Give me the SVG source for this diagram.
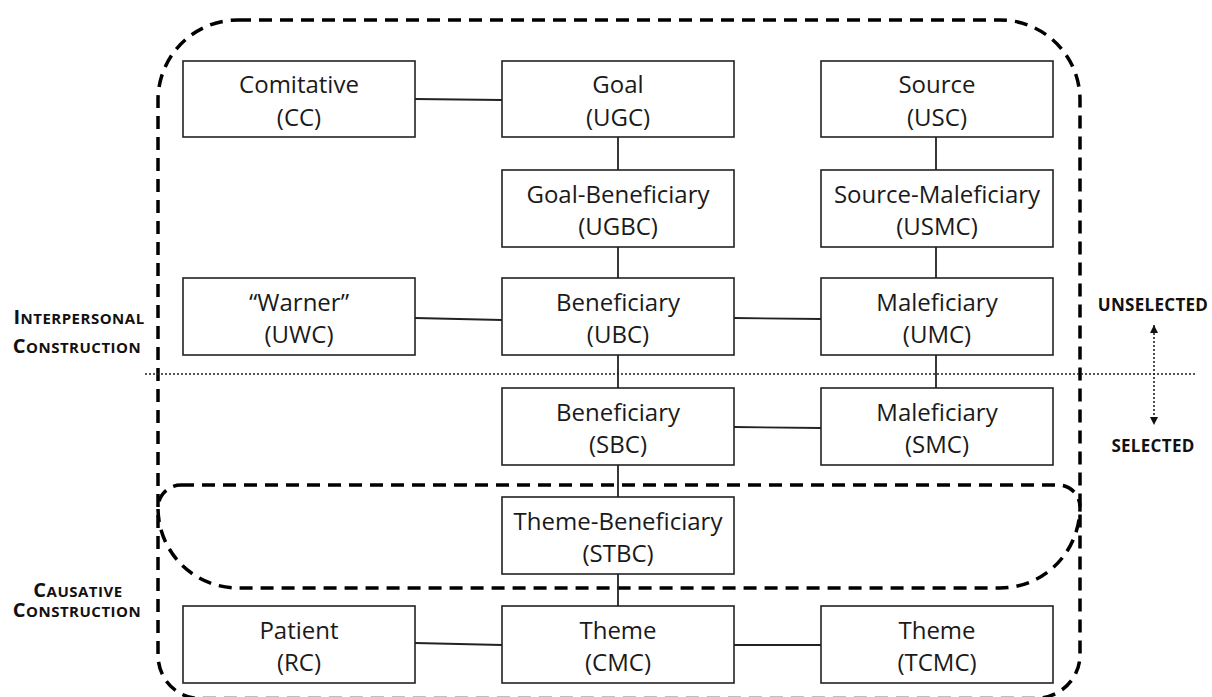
<svg xmlns="http://www.w3.org/2000/svg" width="1212" height="697" viewBox="0 0 1212 697">
<style>
.box{fill:#fff;stroke:#222;stroke-width:1.6}
.t{font-family:"Open Sans","Liberation Sans",sans-serif;font-size:24px;fill:#1a1a1a;text-anchor:middle}
.lab{font-family:"Open Sans","Liberation Sans",sans-serif;font-weight:bold;font-size:15px;letter-spacing:0.5px;fill:#111;text-anchor:middle}
.big{font-size:20px}
.sel{font-family:"Open Sans","Liberation Sans",sans-serif;font-weight:bold;font-size:17px;letter-spacing:0.3px;fill:#111;text-anchor:middle}
.c{stroke:#222;stroke-width:1.8;fill:none}
.dash{fill:none;stroke:#000;stroke-width:3.5;stroke-dasharray:13 8}
.dot{fill:none;stroke:#222;stroke-width:1.6;stroke-dasharray:2 2}
</style>
<defs>
<marker id="ah" viewBox="0 0 10 10" refX="10" refY="5" markerWidth="8" markerHeight="8" markerUnits="userSpaceOnUse" orient="auto-start-reverse">
<path d="M0,0 L10,5 L0,10 z" fill="#111"/>
</marker>
</defs>

<g id="regions">
<path class="dash" d="M238 20 H1000 A80 80 0 0 1 1080 100 V655 A45 43.5 0 0 1 1035 698.5 H200 A42 43.5 0 0 1 158 655 V100 A80 80 0 0 1 238 20 Z"/>
<path class="dash" d="M181 485 H1058 A22 22 0 0 1 1080 507 A80 81 0 0 1 1000 588 H238 A80 80 0 0 1 158 508 A23 23 0 0 1 181 485 Z"/>
</g>

<g id="connectors">
<line class="c" x1="415" y1="99" x2="502" y2="100"/>
<line class="c" x1="618" y1="137" x2="618" y2="170"/>
<line class="c" x1="936" y1="137" x2="936" y2="170"/>
<line class="c" x1="618" y1="247" x2="618" y2="278"/>
<line class="c" x1="936" y1="247" x2="936" y2="278"/>
<line class="c" x1="415" y1="318" x2="502" y2="320"/>
<line class="c" x1="734" y1="318" x2="821" y2="319"/>
<line class="c" x1="618" y1="355" x2="618" y2="388"/>
<line class="c" x1="936" y1="355" x2="936" y2="388"/>
<line class="c" x1="734" y1="427" x2="821" y2="428"/>
<line class="c" x1="618" y1="465" x2="618" y2="497"/>
<line class="c" x1="618" y1="574" x2="618" y2="606"/>
<line class="c" x1="415" y1="643" x2="502" y2="645"/>
<line class="c" x1="734" y1="645" x2="821" y2="645"/>
</g>

<g id="divider">
<line class="dot" x1="145" y1="374" x2="1197" y2="374"/>
<line class="dot" x1="1154" y1="325" x2="1154" y2="425" marker-start="url(#ah)" marker-end="url(#ah)"/>
</g>

<g id="n-cc"><rect class="box" x="183" y="61" width="232" height="76"/><text class="t" x="299" y="93">Comitative</text><text class="t" x="299" y="126">(CC)</text></g>
<g id="n-ugc"><rect class="box" x="502" y="61" width="232" height="76"/><text class="t" x="618" y="93">Goal</text><text class="t" x="618" y="126">(UGC)</text></g>
<g id="n-usc"><rect class="box" x="821" y="61" width="232" height="76"/><text class="t" x="937" y="93">Source</text><text class="t" x="937" y="126">(USC)</text></g>

<g id="n-ugbc"><rect class="box" x="502" y="170" width="232" height="77"/><text class="t" x="618" y="203">Goal-Beneficiary</text><text class="t" x="618" y="235">(UGBC)</text></g>
<g id="n-usmc"><rect class="box" x="821" y="170" width="232" height="77"/><text class="t" x="937" y="203">Source-Maleficiary</text><text class="t" x="937" y="235">(USMC)</text></g>

<g id="n-uwc"><rect class="box" x="183" y="278" width="232" height="77"/><text class="t" x="299" y="311">“Warner”</text><text class="t" x="299" y="343">(UWC)</text></g>
<g id="n-ubc"><rect class="box" x="502" y="278" width="232" height="77"/><text class="t" x="618" y="311">Beneficiary</text><text class="t" x="618" y="343">(UBC)</text></g>
<g id="n-umc"><rect class="box" x="821" y="278" width="232" height="77"/><text class="t" x="937" y="311">Maleficiary</text><text class="t" x="937" y="343">(UMC)</text></g>

<g id="n-sbc"><rect class="box" x="502" y="388" width="232" height="77"/><text class="t" x="618" y="421">Beneficiary</text><text class="t" x="618" y="453">(SBC)</text></g>
<g id="n-smc"><rect class="box" x="821" y="388" width="232" height="77"/><text class="t" x="937" y="421">Maleficiary</text><text class="t" x="937" y="453">(SMC)</text></g>

<g id="n-stbc"><rect class="box" x="502" y="497" width="232" height="77"/><text class="t" x="618" y="530">Theme-Beneficiary</text><text class="t" x="618" y="562">(STBC)</text></g>

<g id="n-rc"><rect class="box" x="183" y="606" width="232" height="77"/><text class="t" x="299" y="639">Patient</text><text class="t" x="299" y="671">(RC)</text></g>
<g id="n-cmc"><rect class="box" x="502" y="606" width="232" height="77"/><text class="t" x="618" y="639">Theme</text><text class="t" x="618" y="671">(CMC)</text></g>
<g id="n-tcmc"><rect class="box" x="821" y="606" width="232" height="77"/><text class="t" x="937" y="639">Theme</text><text class="t" x="937" y="671">(TCMC)</text></g>

<g id="labels">
<text class="lab" x="79" y="324"><tspan class="big">I</tspan>NTERPERSONAL</text>
<text class="lab" x="77" y="353"><tspan class="big">C</tspan>ONSTRUCTION</text>
<text class="lab" x="78" y="597"><tspan class="big">C</tspan>AUSATIVE</text>
<text class="lab" x="77" y="617"><tspan class="big">C</tspan>ONSTRUCTION</text>
<text class="sel" x="1153" y="311">UNSELECTED</text>
<text class="sel" x="1153" y="452">SELECTED</text>
</g>
</svg>
